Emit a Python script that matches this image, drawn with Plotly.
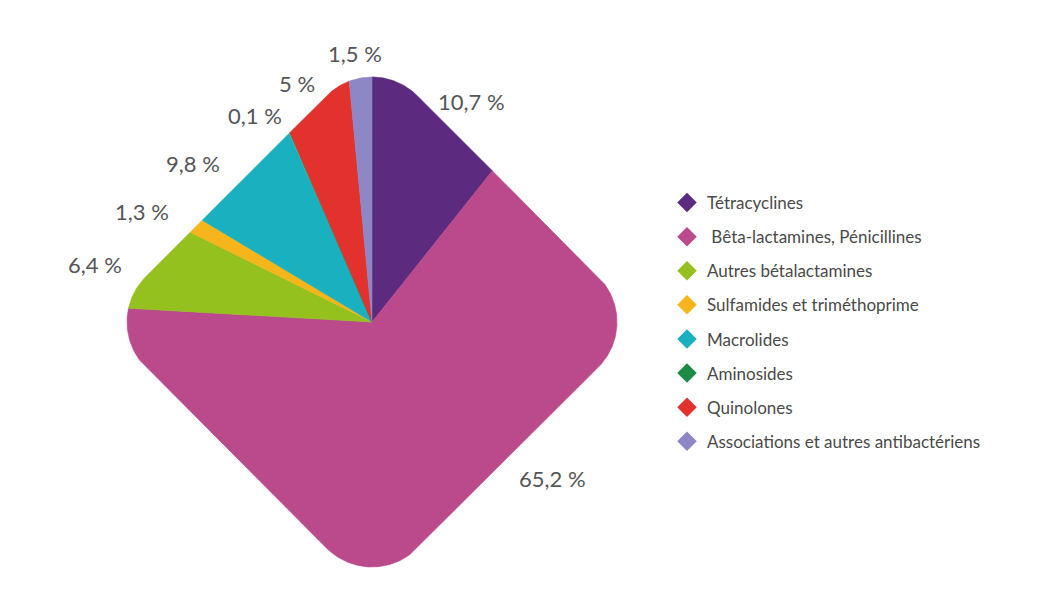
import numpy as np
import plotly.graph_objects as go

# ---- data ----
categories = [
    "Tétracyclines",
    " Bêta-lactamines, Pénicillines",
    "Autres bétalactamines",
    "Sulfamides et triméthoprime",
    "Macrolides",
    "Aminosides",
    "Quinolones",
    "Associations et autres antibactériens",
]
values = [10.7, 65.2, 6.4, 1.3, 9.8, 0.1, 5.0, 1.5]

# ---- style ----
colors = ["#5C2A7E", "#BA4A8C", "#95C11F", "#F6B51A", "#19B0BF",
          "#1D8B43", "#E3312D", "#8E87C5"]
label_shift_deg = [5, -25, -3, -3, -7, -6, -3, -1]
FONT = "Lato"
TEXT_COLOR = "#555557"

W, H = 1044, 612
BODY = 8                   # default page margin around the plot div
CX, CY = 372 - BODY, 322 - BODY   # centre position inside the figure
HALF_SIDE = 192            # half side of the rounded square (px)
CORNER_R = 64              # corner radius (px)


def boundary_radius(theta_deg):
    """Distance from centre to the rounded-diamond edge along a ray
    (angle measured clockwise from 12 o'clock)."""
    th = np.radians(np.atleast_1d(theta_deg))
    dx, dy = np.sin(th), np.cos(th)
    du = (dx + dy) / np.sqrt(2)
    dv = (dy - dx) / np.sqrt(2)
    lo = np.zeros_like(th)
    hi = np.full_like(th, 2.0 * HALF_SIDE)
    for _ in range(50):
        mid = (lo + hi) / 2
        qx = np.abs(du * mid) - (HALF_SIDE - CORNER_R)
        qy = np.abs(dv * mid) - (HALF_SIDE - CORNER_R)
        d = (np.hypot(np.maximum(qx, 0), np.maximum(qy, 0))
             + np.minimum(np.maximum(qx, qy), 0) - CORNER_R)
        inside = d < 0
        lo = np.where(inside, mid, lo)
        hi = np.where(inside, hi, mid)
    return (lo + hi) / 2


def fmt(v):
    return f"{v:g}".replace(".", ",") + " %"


fig = go.Figure()

total = sum(values)
start = 0.0
annotations = []
for i, (name, v) in enumerate(zip(categories, values)):
    a0 = start / total * 360.0
    a1 = (start + v) / total * 360.0
    start += v
    n = max(3, int((a1 - a0) / 0.25) + 2)
    ang = np.linspace(a0, a1, n)
    r = boundary_radius(ang)
    xs = np.concatenate([[0.0], r * np.sin(np.radians(ang)), [0.0]])
    ys = np.concatenate([[0.0], r * np.cos(np.radians(ang)), [0.0]])
    fig.add_trace(go.Scatter(
        x=xs, y=ys, mode="lines", fill="toself",
        fillcolor=colors[i], line=dict(color=colors[i], width=0.6),
        hoverinfo="text", text=f"{name.strip()}: {fmt(v)}",
        showlegend=False))
    fig.add_trace(go.Scatter(
        x=[None], y=[None], mode="markers", name=name,
        legendgroup=f"g{i}",
        marker=dict(symbol="diamond", size=15, color=colors[i])))
    mid = (a0 + a1) / 2 + label_shift_deg[i]
    rb = float(boundary_radius(mid)[0])
    pad = 24 + 30 * abs(np.sin(np.radians(mid)))
    lx = (rb + pad) * np.sin(np.radians(mid))
    ly = (rb + pad) * np.cos(np.radians(mid))
    annotations.append(dict(
        x=lx, y=ly, xref="x", yref="y", text=fmt(v), showarrow=False,
        font=dict(family=FONT, size=22, color=TEXT_COLOR),
        xanchor="center", yanchor="middle"))

fig.update_layout(
    width=W, height=H,
    margin=dict(l=0, r=0, t=0, b=0),
    paper_bgcolor="white", plot_bgcolor="white",
    xaxis=dict(range=[-CX, W - CX], visible=False, fixedrange=True),
    yaxis=dict(range=[CY - H, CY], visible=False, fixedrange=True),
    annotations=annotations,
    legend=dict(
        x=(667 - BODY) / W, y=1 - (185 - BODY) / H,
        xanchor="left", yanchor="top",
        traceorder="grouped", tracegroupgap=9,
        font=dict(family=FONT, size=17, color="#4A4A4A"),
        bgcolor="rgba(0,0,0,0)"),
    showlegend=True,
)

fig.write_html("out.html")
